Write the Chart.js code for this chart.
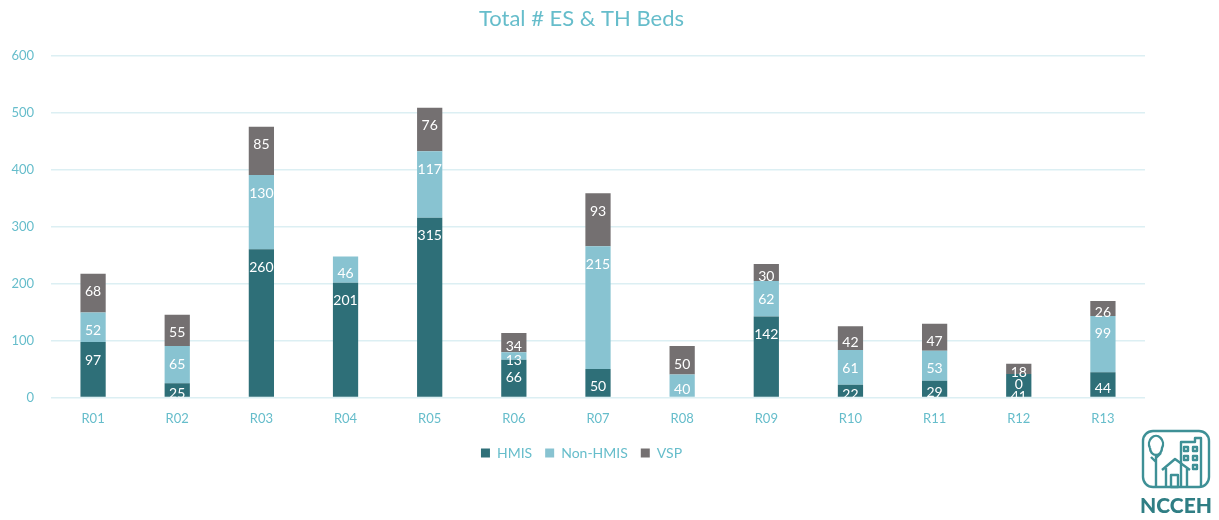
<!DOCTYPE html>
<html>
<head>
<meta charset="utf-8">
<script src="https://cdn.jsdelivr.net/npm/chart.js@4.4.0/dist/chart.umd.min.js"></script>
<style>
  html, body { margin: 0; padding: 0; background: #fff; }
  #wrap { position: absolute; left: 0; top: 0; width: 1165px; height: 520px; }
  #logo { position: absolute; left: 1136px; top: 428px; width: 80px; text-align: center; }
  #logo .name { font-family: 'Lato', 'DejaVu Sans', sans-serif; font-weight: 900; font-size: 21px; color: #2F7E84; line-height: 22px; margin-top: 0px; letter-spacing: 0px; }
</style>
</head>
<body>
<div id="wrap"><canvas id="chart-beds"></canvas></div>
<div id="logo">
  <svg width="76" height="62" viewBox="0 0 76 62">
    <g fill="none" stroke="#3E9096" stroke-width="2.4" stroke-linejoin="round">
      <rect x="5" y="3" width="66" height="56" rx="10"/>
      <path d="M18 59 V26 M12 20 a7 8 0 1 1 12 0 a6 7 0 0 1 -12 0 M18 34 l-5 -5 M18 30 l5 -5"/>
      <path d="M43 59 V14 H57 V10 H63 V59"/>
      <path d="M24 42 L37 31 L52 42 M28 40 V59 M49 40 V59"/>
      <rect x="33" y="47" width="7" height="12"/>
      <rect x="46" y="19" width="4" height="4"/><rect x="55" y="19" width="4" height="4"/>
      <rect x="46" y="28" width="4" height="4"/><rect x="55" y="28" width="4" height="4"/>
      <rect x="55" y="37" width="4" height="4"/>
    </g>
  </svg>
  <div class="name">NCCEH</div>
</div>
<script>
// 資料
const regions = ['R01', 'R02', 'R03', 'R04', 'R05', 'R06', 'R07', 'R08', 'R09', 'R10', 'R11', 'R12', 'R13'];
const hmisBeds = [97, 25, 260, 201, 315, 66, 50, null, 142, 22, 29, 41, 44];
const nonHmisBeds = [52, 65, 130, 46, 117, 13, 215, 40, 62, 61, 53, 0, 99];
const vspBeds = [68, 55, 85, null, 76, 34, 93, 50, 30, 42, 47, 18, 26];
const yTicks = [0, 100, 200, 300, 400, 500, 600];

const colors = {
  hmis: '#2E6F78',
  nonHmis: '#88C3D1',
  vsp: '#747071',
  text: '#66BDCB',
  grid: '#DCEFF3'
};

const FONT = "'Lato', 'Open Sans', sans-serif";

// 區段標籤（靠頂端，往下避開重疊）
const segmentLabels = {
  id: 'segmentLabels',
  afterLayout(chart) {
    // y 軸縮窄後，讓刻度文字不被裁掉
    chart.scales.y.left = 0;
  },
  afterDatasetsDraw(chart) {
    const ctx = chart.ctx;
    const area = chart.chartArea;
    ctx.save();
    ctx.beginPath();
    ctx.rect(area.left, area.top, area.right - area.left, area.bottom - area.top);
    ctx.clip();
    ctx.font = '14px ' + FONT;
    ctx.fillStyle = '#ffffff';
    ctx.textAlign = 'center';
    ctx.textBaseline = 'middle';
    const nSets = chart.data.datasets.length;
    chart.data.labels.forEach((_, i) => {
      let last = -Infinity;
      for (let d = nSets - 1; d >= 0; d--) {
        const val = chart.data.datasets[d].data[i];
        if (val === null || val === undefined) continue;
        const bar = chart.getDatasetMeta(d).data[i];
        const top = Math.min(bar.y, bar.base);
        const h = Math.abs(bar.base - bar.y);
        let y = top + Math.min(17, h / 2 + 3);
        if (y < last + 12) y = last + 12;
        last = y;
        ctx.fillText(String(val), bar.x, y + 1);
      }
    });
    ctx.restore();
  }
};

new Chart(document.getElementById('chart-beds'), {
  type: 'bar',
  data: {
    labels: regions,
    datasets: [
      { label: 'HMIS', data: hmisBeds, backgroundColor: colors.hmis },
      { label: 'Non-HMIS', data: nonHmisBeds, backgroundColor: colors.nonHmis },
      { label: 'VSP', data: vspBeds, backgroundColor: colors.vsp }
    ]
  },
  options: {
    responsive: true,
    maintainAspectRatio: false,
    animation: false,
    datasets: { bar: { barPercentage: 0.3, categoryPercentage: 1.0 } },
    layout: { padding: { left: 18, right: 20, bottom: 50 } },
    plugins: {
      title: {
        display: true,
        text: 'Total # ES & TH Beds',
        color: colors.text,
        font: { family: FONT, size: 22, weight: 'normal' },
        padding: { top: 6, bottom: 23 }
      },
      legend: {
        position: 'bottom',
        labels: {
          color: colors.text,
          font: { family: FONT, size: 14 },
          boxWidth: 9,
          boxHeight: 9,
          padding: 13
        }
      },
      tooltip: { enabled: false }
    },
    scales: {
      x: {
        stacked: true,
        grid: { display: false },
        border: { display: false },
        ticks: { color: colors.text, font: { family: FONT, size: 13 }, padding: 6 }
      },
      y: {
        stacked: true,
        min: yTicks[0],
        max: yTicks[yTicks.length - 1],
        afterBuildTicks(axis) { axis.ticks = yTicks.map(v => ({ value: v })); },
        afterFit(axis) { axis.width = 33; },
        grid: { color: colors.grid, lineWidth: 1.5, drawTicks: false },
        border: { display: false },
        ticks: { color: colors.text, font: { family: FONT, size: 13 }, padding: 17 }
      }
    }
  },
  plugins: [segmentLabels]
});
</script>
</body>
</html>
